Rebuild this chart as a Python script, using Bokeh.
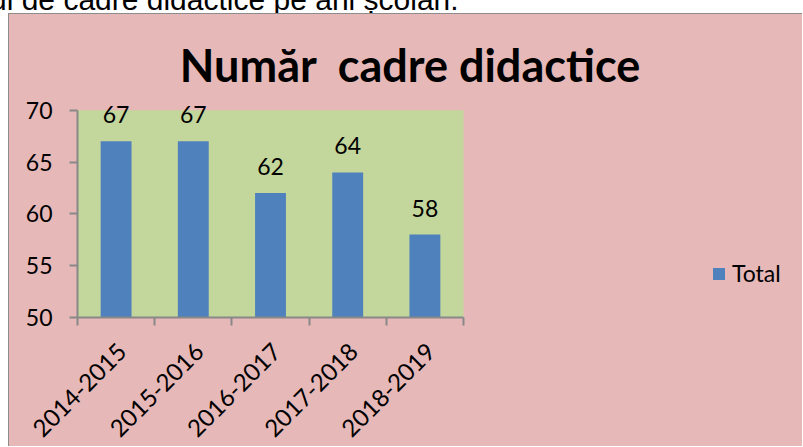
import math
from bokeh.plotting import figure
from bokeh.layouts import column, row
from bokeh.models import (ColumnDataSource, LabelSet, Label, Legend, LegendItem,
                          BoxAnnotation, FixedTicker, Range1d, Div, Spacer)
from bokeh.core.properties import value
from bokeh.embed import file_html
from bokeh.resources import INLINE

# ---- data ----
years = ["2014-2015", "2015-2016", "2016-2017", "2017-2018", "2018-2019"]
totals = [67, 67, 62, 64, 58]
y_ticks = [50, 55, 60, 65, 70]
series_name = "Total"
title_text = "Număr \u00a0cadre didactice"
caption_text = "ul de cadre didactice pe ani școlari."

# ---- styles / layout ----
PINK = "#E6B8B7"
GREEN = "#C3D69B"
BLUE = "#4F81BD"
AXIS = "#888888"
FONT = "Lato"

FIG_W, FIG_H = 794, 433          # canvas of the chart
LEFT, BOTTOM = 68, 129           # borders around the frame (px)
PLOT_W, PLOT_H = 386, 208        # pixel size of the green plot area
frame_w = FIG_W - LEFT
frame_h = FIG_H - BOTTOM
n = len(years)
y0, y1 = y_ticks[0], y_ticks[-1]
x_end = n * frame_w / PLOT_W
y_end = y0 + (y1 - y0) * frame_h / PLOT_H
px_x = PLOT_W / n                 # px per category
px_y = PLOT_H / (y1 - y0)         # px per unit
label_shift = 6 / px_x            # small rightward nudge of the rotated labels

x_pos = [i + 0.5 for i in range(n)]
src = ColumnDataSource(dict(x=x_pos, top=totals,
                            label=[str(v) for v in totals]))

p = figure(width=FIG_W, height=FIG_H, output_backend="svg", toolbar_location=None,
           x_range=Range1d(0, x_end), y_range=Range1d(y0, y_end),
           min_border_left=LEFT, min_border_right=0,
           min_border_top=0, min_border_bottom=BOTTOM,
           styles={"background-color": PINK,
                   "border-left": "1px solid #8C8C8C",
                   "border-top": "1px solid #8C8C8C"})
p.border_fill_color = None
p.background_fill_color = None
p.outline_line_color = None
p.grid.visible = False

# plot area (green)
p.add_layout(BoxAnnotation(left=0, right=n, bottom=y0, top=y1,
                           fill_color=GREEN, fill_alpha=1.0, line_color=None,
                           level="underlay"))

r = p.vbar(x="x", top="top", bottom=y0, width=0.4, source=src,
           fill_color=BLUE, line_color=None)

p.add_layout(LabelSet(x="x", y="top", text="label", source=src, y_offset=18,
                      text_align="center", text_baseline="alphabetic",
                      text_font=value(FONT), text_font_size="23px",
                      text_color="black"))

# axes
label_ticks = [x + label_shift for x in x_pos]
xa = p.xaxis[0]
xa.ticker = FixedTicker(ticks=label_ticks, minor_ticks=list(range(n + 1)))
xa.major_label_overrides = {x: y for x, y in zip(label_ticks, years)}
xa.bounds = (0, n)
xa.major_tick_out = 0
xa.major_tick_in = 0
xa.minor_tick_out = 8
xa.minor_tick_in = 0
xa.major_label_orientation = math.pi / 4
xa.major_label_standoff = 22
xa.major_label_text_font_size = "24px"

ya = p.yaxis[0]
ya.ticker = FixedTicker(ticks=y_ticks)
ya.bounds = (y0, y1)
ya.major_tick_out = 8
ya.major_tick_in = 0
ya.minor_tick_out = 0
ya.minor_tick_in = 0
ya.major_label_standoff = 17
ya.major_label_text_font_size = "23px"

for ax in (xa, ya):
    ax.axis_line_color = AXIS
    ax.axis_line_width = 2
    ax.major_tick_line_color = AXIS
    ax.major_tick_line_width = 2
    ax.minor_tick_line_color = AXIS
    ax.minor_tick_line_width = 2
    ax.major_label_text_font = FONT
    ax.major_label_text_color = "black"

# chart title (centred at x=410px, middle 253px above the plot bottom)
p.add_layout(Label(x=(410 - 77) / px_x, y=y0 + 253 / px_y, text=title_text,
                   text_align="center", text_baseline="middle",
                   text_font=FONT, text_font_size="45px",
                   text_font_style="bold", text_color="black"))

# legend
legend = Legend(items=[LegendItem(label=series_name, renderers=[r])],
                location=(634, 30), orientation="vertical",
                glyph_width=15, glyph_height=15, label_height=15,
                label_standoff=6, padding=0, margin=0, spacing=0,
                border_line_color=None, background_fill_alpha=0,
                label_text_font=FONT, label_text_font_size="23px",
                label_text_color="black")
p.add_layout(legend, "center")

caption = Div(text=('<div style="position:absolute; top:-15px; left:-10px;'
                    ' font-family: \'Liberation Sans\', Arial, sans-serif;'
                    ' font-size:30px; line-height:30px;'
                    ' white-space:nowrap; color:black;">' + caption_text + '</div>'),
              width=803, height=13, margin=0,
              styles={"overflow": "hidden", "position": "relative",
                      "height": "13px", "max-height": "13px"})

layout = column(caption, row(Spacer(width=8, height=FIG_H), p))
open("out.html", "w").write(file_html(layout, INLINE))
